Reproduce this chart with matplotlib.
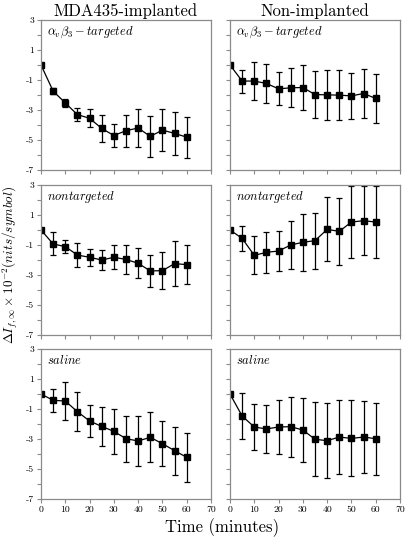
import numpy as np
import matplotlib
matplotlib.use('Agg')
import matplotlib.pyplot as plt

plt.rcParams['font.family'] = ['cmr10', 'DejaVu Serif']
plt.rcParams['mathtext.fontset'] = 'cm'
plt.rcParams['axes.unicode_minus'] = False
plt.rcParams['axes.formatter.use_mathtext'] = True

t = [0, 5, 10, 15, 20, 25, 30, 35, 40, 45, 50, 55, 60]

# MDA435-implanted
mda_targ = [0, -1.74, -2.53, -3.31, -3.55, -4.23, -4.70, -4.38, -4.20, -4.76, -4.34, -4.56, -4.81]
mda_targ_err = [0, 0.22, 0.25, 0.42, 0.6, 0.9, 0.74, 1.07, 1.29, 1.39, 1.41, 1.41, 1.36]
mda_nont = [0, -0.93, -1.11, -1.67, -1.82, -2.0, -1.82, -1.96, -2.22, -2.73, -2.71, -2.24, -2.31]
mda_nont_err = [0, 0.77, 0.44, 0.78, 0.57, 0.66, 0.79, 0.98, 1.01, 1.09, 1.22, 1.48, 1.31]
mda_sal = [0, -0.42, -0.47, -1.18, -1.80, -2.16, -2.49, -2.98, -3.13, -2.89, -3.31, -3.78, -4.22]
mda_sal_err = [0, 0.78, 1.24, 1.31, 1.08, 1.28, 1.51, 1.54, 1.67, 1.66, 1.51, 1.6, 1.62]

# Non-implanted
non_targ = [0, -1.07, -1.07, -1.23, -1.59, -1.52, -1.50, -1.97, -1.99, -2.01, -2.06, -1.90, -2.23]
non_targ_err = [0, 0.77, 1.25, 1.32, 1.1, 1.3, 1.52, 1.57, 1.67, 1.66, 1.52, 1.61, 1.64]
non_nont = [0, -0.56, -1.69, -1.49, -1.40, -1.0, -0.82, -0.71, 0.04, -0.09, 0.53, 0.62, 0.53]
non_nont_err = [0, 0.83, 1.26, 1.37, 1.36, 1.63, 1.91, 1.87, 2.14, 2.23, 2.42, 2.31, 2.41]
non_sal = [0, -1.47, -2.2, -2.33, -2.2, -2.18, -2.4, -3.02, -3.11, -2.87, -2.96, -2.87, -2.98]
non_sal_err = [0, 1.53, 1.53, 1.62, 1.77, 2.01, 2.14, 2.46, 2.51, 2.47, 2.53, 2.4, 2.39]

row_labels = [r'$\alpha_v\beta_3 - targeted$', r'$nontargeted$', r'$saline$']
col_titles = ['MDA435-implanted', 'Non-implanted']
data = [[(mda_targ, mda_targ_err), (non_targ, non_targ_err)],
        [(mda_nont, mda_nont_err), (non_nont, non_nont_err)],
        [(mda_sal, mda_sal_err), (non_sal, non_sal_err)]]

W, H = 406, 541
fig = plt.figure(figsize=(W / 100, H / 100), dpi=100)

lefts = [41, 230]
tops = [20, 185, 349]
aw, ah = 170, 150
gray = '#8a8a8a'

for r in range(3):
    for c in range(2):
        ax = fig.add_axes([lefts[c] / W, 1 - (tops[r] + ah) / H, aw / W, ah / H])
        y, e = data[r][c]
        ax.errorbar(t, y, yerr=e, color='black', lw=0.9, elinewidth=0.9,
                    capsize=2.2, capthick=0.9, marker='s', ms=5, clip_on=True)
        ax.set_xlim(0, 70)
        ax.set_ylim(-7, 3)
        ax.set_yticks(range(-7, 4))
        ax.set_xticks(range(0, 71, 10))
        ylab = [str(v) if v % 2 != 0 else '' for v in range(-7, 4)]
        if c == 0:
            ax.set_yticklabels(ylab)
        else:
            ax.set_yticklabels([])
        if r == 2:
            ax.set_xticklabels([str(v) for v in range(0, 71, 10)])
        else:
            ax.set_xticklabels([])
        for s in ax.spines.values():
            s.set_color(gray)
            s.set_linewidth(0.9)
        ax.tick_params(direction='out', length=3, width=0.8, color=gray,
                       labelsize=7, pad=2)
        ax.text(0.035, 0.92, row_labels[r], transform=ax.transAxes,
                fontsize=9, va='center', ha='left')
        if r == 0:
            ax.set_title(col_titles[c], fontsize=12, pad=3)

fig.text(222 / W, 1 - 528 / H, 'Time (minutes)', fontsize=12, ha='center', va='center')
fig.text(10 / W, 1 - 265 / H, r'$\Delta I_{f,\infty}\times 10^{-2}(nits/symbol)$',
         fontsize=9.5, rotation=90, ha='center', va='center')

fig.savefig('out.png', dpi=100)
